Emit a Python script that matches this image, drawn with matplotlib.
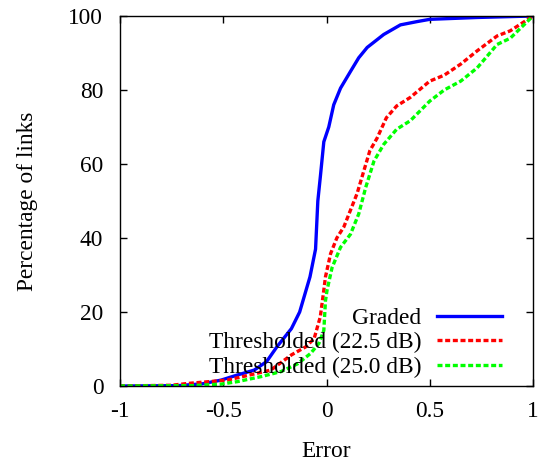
import matplotlib
matplotlib.use("Agg")
import matplotlib.pyplot as plt

# Data
graded_x = [-1.0, -0.72, -0.6, -0.51, -0.43, -0.35, -0.29, -0.26, -0.24, -0.17, -0.13,
            -0.08, -0.053, -0.042, -0.029, -0.013, 0.011, 0.035, 0.068, 0.116, 0.156,
            0.197, 0.277, 0.358, 0.44, 0.50, 0.73, 1.0]
graded_y = [0.0, 0.1, 0.6, 1.6, 3.0, 4.3, 6.6, 9.0, 10.6, 15.5, 20.0,
            29.5, 37.0, 50.0, 57.0, 66.0, 70.0, 76.0, 80.5, 85.0, 88.7,
            91.5, 95.0, 97.6, 98.5, 99.1, 99.6, 100.0]

th225_x = [-1.0, -0.75, -0.67, -0.48, -0.37, -0.27, -0.17, -0.10, -0.06, -0.03, -0.013,
           -0.005, 0.02, 0.05, 0.084, 0.116, 0.148, 0.18, 0.21, 0.245, 0.29, 0.34,
           0.406, 0.50, 0.57, 0.65, 0.73, 0.826, 0.89, 1.0]
th225_y = [0.0, 0.2, 0.7, 1.6, 3.0, 4.3, 8.4, 10.6, 12.8, 18.7, 25.9,
           29.5, 35.8, 40.0, 43.0, 47.5, 52.0, 58.0, 63.6, 67.0, 72.5, 75.7,
           78.0, 82.4, 84.0, 87.0, 90.6, 94.6, 96.0, 100.0]

th250_x = [-1.0, -0.65, -0.51, -0.43, -0.32, -0.22, -0.14, -0.077, -0.037, -0.013,
           -0.005, 0.003, 0.027, 0.068, 0.116, 0.156, 0.19, 0.23, 0.277, 0.34,
           0.406, 0.50, 0.57, 0.65, 0.73, 0.826, 0.89, 1.0]
th250_y = [0.0, 0.1, 0.5, 1.2, 2.5, 3.9, 6.0, 8.8, 11.5, 15.0,
           23.0, 26.0, 32.0, 37.5, 41.0, 46.5, 53.7, 60.8, 65.3, 69.4,
           71.7, 77.0, 80.0, 82.4, 86.0, 92.3, 94.0, 100.0]

labels = ["Graded", "Thresholded (22.5 dB)", "Thresholded (25.0 dB)"]
x_ticks = [-1, -0.5, 0, 0.5, 1]
x_ticklabels = ["-1", "-0.5", "0", "0.5", "1"]
y_ticks = [0, 20, 40, 60, 80, 100]

plt.rcParams['font.family'] = ['Liberation Serif', 'DejaVu Serif']
fs = 16.8

fig = plt.figure(figsize=(5.39, 4.63), dpi=100)
ax = fig.add_axes([120/539, 77/463, 413/539, 370/463])

lw = 2.4
ax.plot(graded_x, graded_y, color=(0, 0, 1), lw=lw, label=labels[0],
        solid_joinstyle='miter')
ax.plot(th225_x, th225_y, color=(1, 0, 0), lw=lw, label=labels[1],
        dashes=(1.5, 0.8), dash_capstyle='butt')
ax.plot(th250_x, th250_y, color=(0, 1, 0), lw=lw, label=labels[2],
        dashes=(1.5, 0.8), dash_capstyle='butt')

ax.set_xlim(-1, 1)
ax.set_ylim(0, 100)
ax.set_xticks(x_ticks)
ax.set_xticklabels(x_ticklabels)
ax.set_yticks(y_ticks)
ax.tick_params(direction='in', length=5, width=1, top=True, right=True,
               labelsize=fs, colors='black')
ax.tick_params(axis='y', pad=12)
ax.tick_params(axis='x', pad=11)
for s in ax.spines.values():
    s.set_linewidth(1)

ax.set_xlabel("Error", fontsize=fs, labelpad=13.5)
ax.set_ylabel("Percentage of links", fontsize=fs, labelpad=22)

leg = ax.legend(loc='lower right', bbox_to_anchor=(0.925, 0.022), frameon=False,
                markerfirst=False, fontsize=fs, handlelength=2.8,
                handletextpad=0.65, labelspacing=0.13, borderpad=0, borderaxespad=0)

fig.savefig("out.png", dpi=100)
